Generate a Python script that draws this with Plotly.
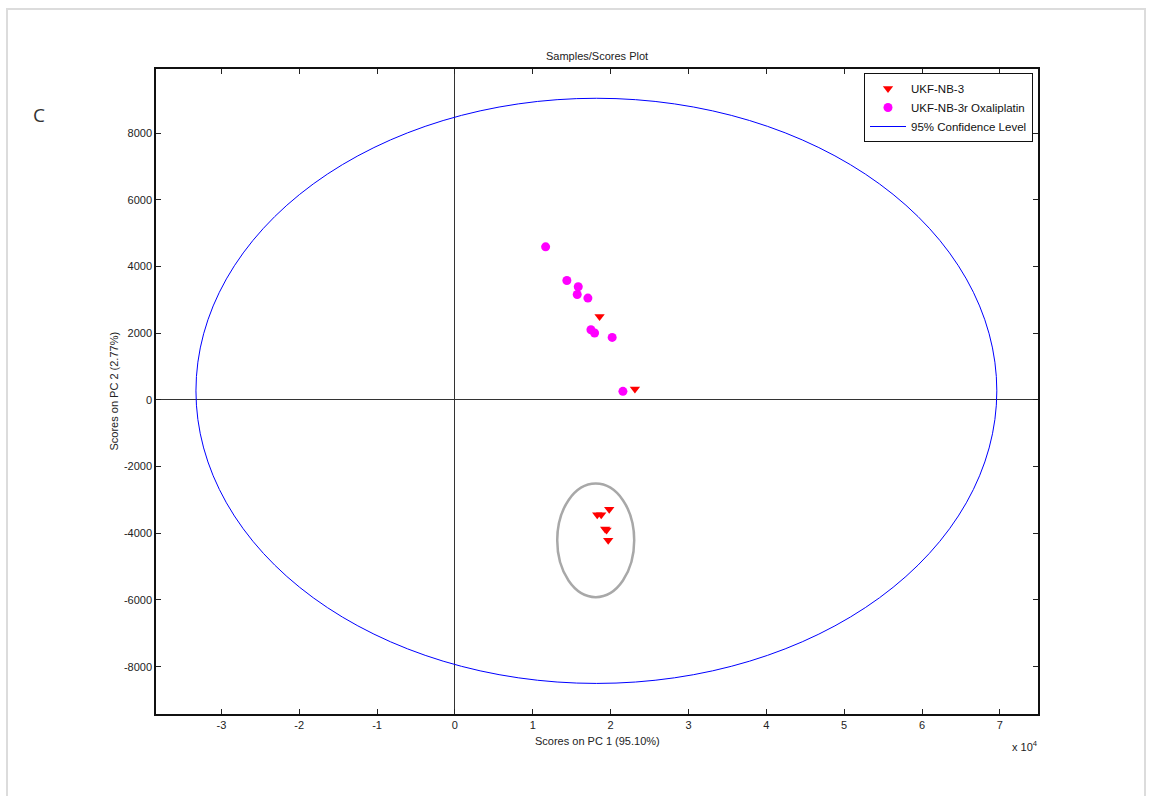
import plotly.graph_objects as go

# ---- data ----
nb3_x = [18580, 23120, 19820, 18280, 18790, 19300, 19480, 19690]
nb3_y = [2500, 330, -3280, -3440, -3440, -3870, -3900, -4210]

oxa_x = [11650, 14380, 15840, 15710, 17080, 17470, 17940, 20200, 21580]
oxa_y = [4593, 3584, 3395, 3164, 3056, 2106, 2007, 1876, 258]

# 95% confidence ellipse bounds (data units)
conf_x = [-33270, 69610]
conf_y = [-8503, 9049]
# highlighted cluster ellipse bounds
clus_x = [13140, 23030]
clus_y = [-5915, -2508]

x_tickvals = [-30000, -20000, -10000, 0, 10000, 20000, 30000, 40000, 50000, 60000, 70000]
x_ticktext = ["-3", "-2", "-1", "0", "1", "2", "3", "4", "5", "6", "7"]
y_tickvals = [-8000, -6000, -4000, -2000, 0, 2000, 4000, 6000, 8000]
x_range = [-38400, 74900]
y_range = [-9420, 9927]

FONT = "Liberation Sans, Arial, sans-serif"

fig = go.Figure()
fig.add_trace(go.Scatter(
    x=nb3_x, y=nb3_y, mode="markers", name="UKF-NB-3",
    marker=dict(symbol="triangle-down", size=9, color="#ff0000", line=dict(width=0)),
))
fig.add_trace(go.Scatter(
    x=oxa_x, y=oxa_y, mode="markers", name="UKF-NB-3r Oxaliplatin",
    marker=dict(symbol="circle", size=9, color="#ff00ff", line=dict(width=0)),
))
fig.add_trace(go.Scatter(
    x=[None], y=[None], mode="lines", name="95% Confidence Level",
    line=dict(color="#0000ff", width=1),
))

fig.add_shape(type="circle", xref="x", yref="y",
              x0=conf_x[0], x1=conf_x[1], y0=conf_y[0], y1=conf_y[1],
              line=dict(color="#0000ff", width=1))
fig.add_shape(type="circle", xref="x", yref="y",
              x0=clus_x[0], x1=clus_x[1], y0=clus_y[0], y1=clus_y[1],
              line=dict(color="#a8a8a8", width=2.5))

# outer light frame
fig.add_shape(type="rect", xref="paper", yref="paper",
              x0=(7 - 156) / 882, x1=(1145 - 156) / 882, y0=-0.3, y1=(714 - 9) / 645,
              line=dict(color="#dcdcdc", width=2), layer="below")

axis_common = dict(
    showgrid=False, showline=True, linecolor="#111111", linewidth=1.5,
    mirror="ticks", ticks="inside", ticklen=5, tickcolor="#222222",
    tickfont=dict(family=FONT, size=11, color="#222222"),
    zeroline=True, zerolinecolor="#333333", zerolinewidth=1,
)

fig.update_xaxes(range=x_range, tickmode="array", tickvals=x_tickvals,
                 ticktext=x_ticktext, **axis_common)
fig.update_yaxes(range=y_range, tickmode="array", tickvals=y_tickvals,
                 ticktext=[str(v) for v in y_tickvals], **axis_common)

annotations = [
    dict(text="Samples/Scores Plot", x=0.5, y=(714 - 55.7) / 645, xref="paper", yref="paper",
         showarrow=False, xanchor="center", yanchor="middle",
         font=dict(family=FONT, size=11, color="#222222")),
    dict(text="Scores on PC 1 (95.10%)", x=0.5, y=(714 - 741) / 645, xref="paper", yref="paper",
         showarrow=False, xanchor="center", yanchor="middle",
         font=dict(family=FONT, size=11, color="#222222")),
    dict(text="Scores on PC 2 (2.77%)", x=(113 - 156) / 882, y=0.5, xref="paper", yref="paper",
         showarrow=False, xanchor="center", yanchor="middle", textangle=-90,
         font=dict(family=FONT, size=11, color="#222222")),
    dict(text="x 10<sup>4</sup>", x=(1010 - 156) / 882, y=(714 - 746) / 645, xref="paper", yref="paper",
         showarrow=False, xanchor="left", yanchor="middle",
         font=dict(family=FONT, size=11, color="#222222")),
    dict(text="C", x=(31 - 156) / 882, y=(714 - 115) / 645, xref="paper", yref="paper",
         showarrow=False, xanchor="left", yanchor="middle",
         font=dict(family="Open Sans, sans-serif", size=19, color="#333333")),
]

fig.update_layout(
    width=1151, height=796,
    margin=dict(l=156, r=113, t=69, b=82),
    paper_bgcolor="white", plot_bgcolor="white",
    annotations=annotations,
    showlegend=True,
    legend=dict(x=(1033 - 156) / 882, y=(714 - 73) / 645, xanchor="right", yanchor="top",
                bgcolor="white", bordercolor="#111111", borderwidth=1,
                font=dict(family=FONT, size=11.5, color="#111111"),
                itemwidth=36, tracegroupgap=0),
)

fig.write_html("out.html",
               config={"displayModeBar": False},
               post_script="document.body.style.margin='0px';document.body.style.overflow='hidden';")
